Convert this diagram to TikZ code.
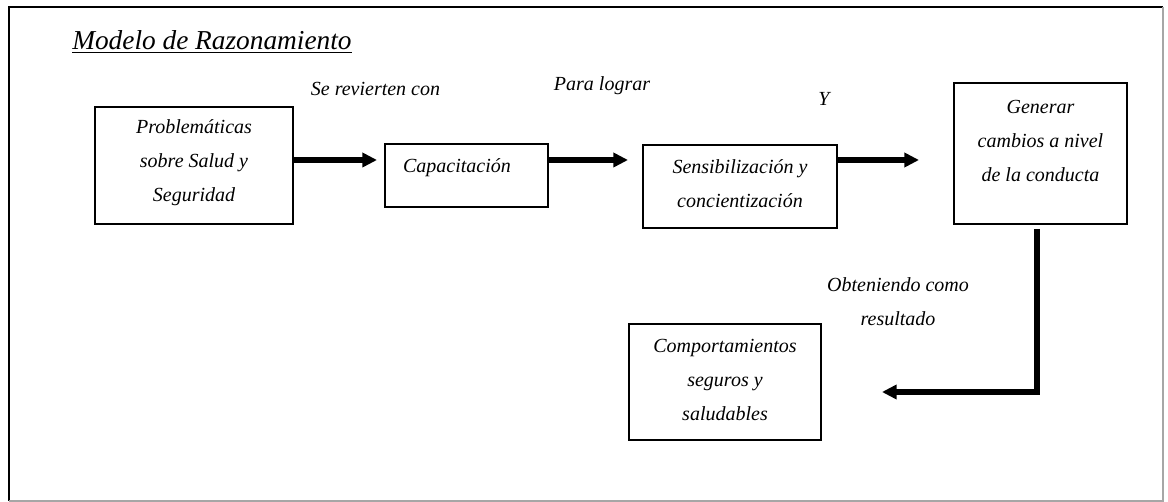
\documentclass[tikz,border=0pt]{standalone}
\usepackage{fontspec}
\setmainfont{Liberation Serif}
\usetikzlibrary{arrows.meta}
\begin{document}
\begin{tikzpicture}[x=0.75pt,y=-0.75pt,
  box/.style={draw=black, line width=1.5pt, rectangle, inner sep=0pt},
  txt/.style={font=\fontsize{15}{25.5}\selectfont\itshape, align=center, inner sep=0pt},
  lbl/.style={font=\fontsize{15}{26}\selectfont\itshape, align=center, inner sep=0pt, anchor=base},
  arr/.style={line width=3.9pt, -{Triangle[length=11pt,width=10.5pt]}}]
\useasboundingbox (0,0) rectangle (1168,502);
% outer frame
\draw[black, line width=1pt] (9,501) -- (9,7) -- (1163,7);
\draw[gray!70, line width=1pt] (1163,7) -- (1163,501) -- (9,501);
% title
\node[font=\fontsize{20.5}{24}\selectfont\itshape, anchor=base west, inner sep=0pt] (title) at (72,50) {\underline{Modelo de Razonamiento}};
% boxes
\node[box, minimum width=198*0.75pt, minimum height=117*0.75pt] (b1) at (194,165.5) {};
\node[txt] (t1) at (194,163) {Problemáticas\\sobre Salud y\\Seguridad};
\node[box, minimum width=163*0.75pt, minimum height=63*0.75pt] (b2) at (466.5,175.5) {};
\node[txt] (t2) at (457,168) {Capacitación};
\node[box, minimum width=194*0.75pt, minimum height=83*0.75pt] (b3) at (740,186.5) {};
\node[txt] (t3) at (740,184) {Sensibilización y\\concientización};
\node[box, minimum width=173*0.75pt, minimum height=141*0.75pt] (b4) at (1040.5,153.5) {};
\node[txt] (t4) at (1040.5,141) {Generar\\cambios a nivel\\de la conducta};
\node[box, minimum width=192*0.75pt, minimum height=116*0.75pt] (b5) at (725,382) {};
\node[txt] (t5) at (725,380) {Comportamientos\\seguros y\\saludables};
% labels
\node[lbl] (l1) at (375.5,96) {Se revierten con};
\node[lbl] (l2) at (602,91) {Para lograr};
\node[lbl] (l3) at (824,106) {Y};
\node[txt] (l4) at (898,302) {Obteniendo como\\resultado};
% arrows
\coordinate (a1) at (377,160);
\coordinate (a2) at (628,160);
\coordinate (a3) at (919,160);
\coordinate (a4) at (882,392);
\draw[arr] (b1.east |- a1) -- (a1);
\draw[arr] (b2.east |- a2) -- (a2);
\draw[arr] (b3.east |- a3) -- (a3);
\draw[arr] ([xshift=-3.5*0.75pt, yshift=-4*0.75pt]b4.south) |- (a4);
\end{tikzpicture}
\end{document}
